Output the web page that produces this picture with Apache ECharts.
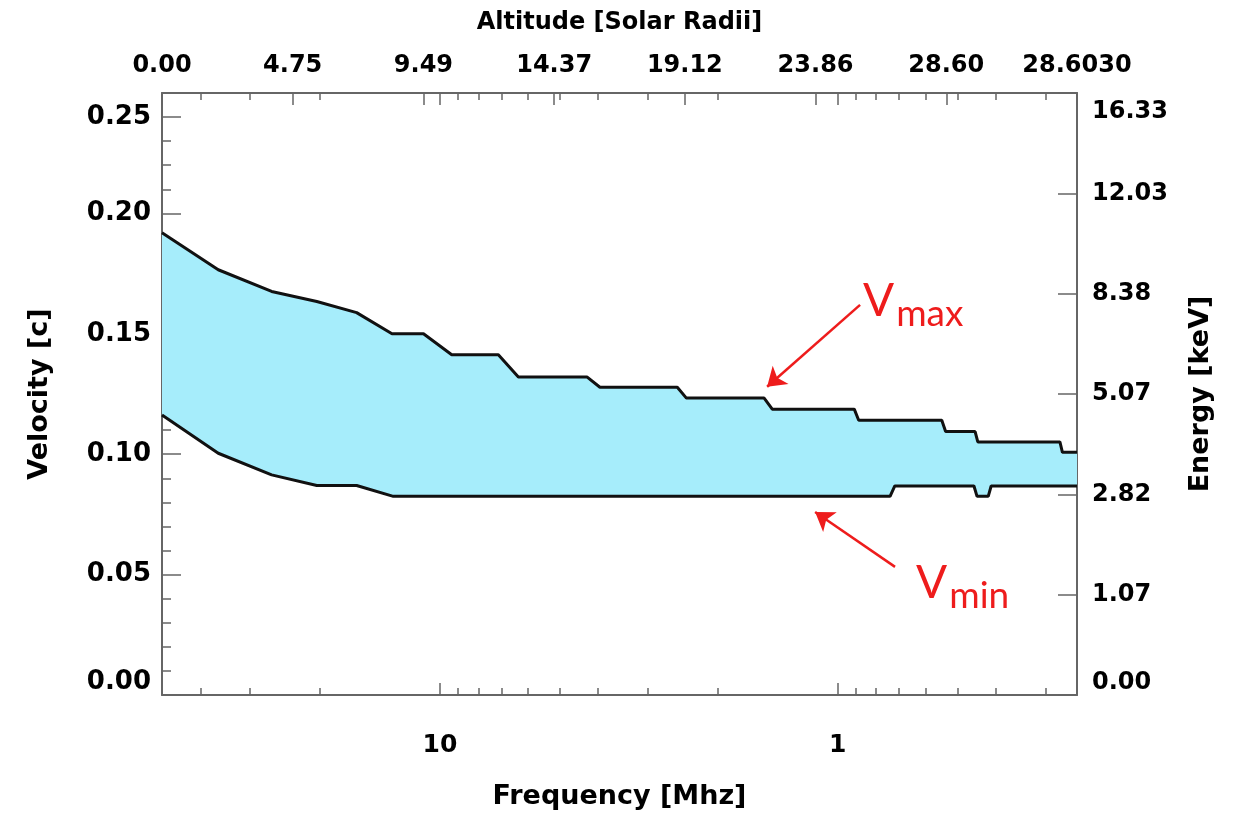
<!DOCTYPE html>
<html><head><meta charset="utf-8">
<script src="https://cdn.jsdelivr.net/npm/echarts@6/dist/echarts.min.js"></script>
<style>html,body{margin:0;padding:0;background:#fff}#c{width:1237px;height:816px}</style>
</head><body><div id="c"></div>
<script>
// ---- data ----
const vmaxFreq = [50, 36.1, 26.5, 20.4, 16.2, 13.2, 11.0, 9.34, 7.13, 6.35, 4.27, 3.96, 2.53, 2.40, 1.53, 1.46, 0.908, 0.885, 0.547, 0.535, 0.451, 0.444, 0.276, 0.272, 0.25];
const vmaxVel  = [0.192, 0.1766, 0.1676, 0.1634, 0.1588, 0.1500, 0.1500, 0.1413, 0.1413, 0.1321, 0.1321, 0.1278, 0.1278, 0.1233, 0.1233, 0.1187, 0.1187, 0.1141, 0.1141, 0.1094, 0.1094, 0.1051, 0.1051, 0.1008, 0.1008];
const vminFreq = [50, 36.1, 26.5, 20.4, 16.2, 13.1, 0.738, 0.718, 0.454, 0.446, 0.418, 0.411, 0.25];
const vminVel  = [0.1163, 0.1004, 0.0914, 0.0870, 0.0870, 0.0825, 0.0825, 0.0868, 0.0868, 0.0825, 0.0825, 0.0868, 0.0868];

const freqRange = [0.25, 50];
const freqMajorTicks = [10, 1];
const freqMinorTicks = [40, 30, 20, 9, 8, 7, 6, 5, 4, 3, 2, 0.9, 0.8, 0.7, 0.6, 0.5, 0.4, 0.3];

const velocityRange = [0, 0.25];
const velocityTickValues = [0, 0.05, 0.10, 0.15, 0.20, 0.24];
const velocityTickLabels = ['0.00', '0.05', '0.10', '0.15', '0.20', '0.25'];
const velocityMinorTicks = [0.01,0.02,0.03,0.04,0.06,0.07,0.08,0.09,0.11,0.12,0.13,0.14,0.16,0.17,0.18,0.19,0.21,0.22,0.23];

const energyTickLabels = ['0.00', '1.07', '2.82', '5.07', '8.38', '12.03', '16.33'];
const altitudeTickLabels = ['0.00', '4.75', '9.49', '14.37', '19.12', '23.86', '28.60', '28.6030'];

const arrowVmax = [[0.878, 0.162], [1.504, 0.128]];
const arrowVmin = [[0.717, 0.0532], [1.139, 0.0760]];
const labelVmax = { sub: 'max', at: [0.858, 0.150] };
const labelVmin = { sub: 'min', at: [0.631, 0.0328] };

// ---- styles ----
const AX = '#666';
const FONT = 'DejaVu Sans';
function tf(size) { return { fontFamily: FONT, fontWeight: 'bold', fontSize: size, color: '#000' }; }
const RED = '#ee1c1c';

const chart = echarts.init(document.getElementById('c'), null, { renderer: 'canvas' });

function freqAxis(pos, ticks, len, showLine, withLabels, name) {
  return {
    type: 'log', logBase: 10, position: pos, inverse: true,
    min: freqRange[0], max: freqRange[1],
    name: name || '', nameLocation: 'middle', nameGap: 88, nameTextStyle: tf(27),
    axisLine: { show: showLine, onZero: false, lineStyle: { color: AX, width: 2 } },
    axisTick: { show: true, inside: true, length: len, customValues: ticks, lineStyle: { color: AX, width: 1.5 } },
    axisLabel: withLabels ? Object.assign({ show: true, margin: 38, customValues: ticks }, tf(25)) : { show: false },
    splitLine: { show: false }, minorTick: { show: false }
  };
}

const option = {
  animation: false,
  backgroundColor: '#fff',
  grid: { left: 162, top: 93, width: 915, height: 602, outerBoundsMode: 'none', containLabel: false },
  xAxis: [
    freqAxis('bottom', freqMajorTicks, 12, true, true, 'Frequency [Mhz]'),
    freqAxis('bottom', freqMinorTicks, 7, false, false),
    freqAxis('top', freqMajorTicks, 12, false, false),
    freqAxis('top', freqMinorTicks, 7, false, false),
    {
      type: 'value', position: 'top', min: 0, max: altitudeTickLabels.length - 1, interval: 1,
      name: 'Altitude [Solar Radii]', nameLocation: 'middle', nameGap: 58, nameTextStyle: tf(24),
      axisLine: { show: true, onZero: false, lineStyle: { color: AX, width: 2 } },
      axisTick: { show: true, inside: true, length: 12, lineStyle: { color: AX, width: 1.5 } },
      axisLabel: Object.assign({ margin: 15, formatter: v => altitudeTickLabels[Math.round(v)] }, tf(24)),
      splitLine: { show: false }
    }
  ],
  yAxis: [
    {
      type: 'value', position: 'left', min: velocityRange[0], max: velocityRange[1],
      name: 'Velocity [c]', nameLocation: 'middle', nameGap: 109, nameRotate: 90, nameTextStyle: tf(27),
      axisLine: { show: true, onZero: false, lineStyle: { color: AX, width: 2 } },
      axisTick: { show: true, inside: true, length: 19, customValues: velocityTickValues, lineStyle: { color: AX, width: 1.5 } },
      axisLabel: Object.assign({
        margin: 11, customValues: velocityTickValues, verticalAlignMinLabel: 'bottom', padding: [3, 0, 0, 0],
        formatter: v => { const i = velocityTickValues.findIndex(t => Math.abs(t - v) < 1e-9); return i >= 0 ? velocityTickLabels[i] : ''; }
      }, tf(26)),
      splitLine: { show: false }
    },
    {
      type: 'value', position: 'left', min: velocityRange[0], max: velocityRange[1],
      axisLine: { show: false, onZero: false },
      axisTick: { show: true, inside: true, length: 9, customValues: velocityMinorTicks, lineStyle: { color: AX, width: 1.5 } },
      axisLabel: { show: false }, splitLine: { show: false }
    },
    {
      type: 'value', position: 'right', min: 0, max: energyTickLabels.length - 1, interval: 1,
      name: 'Energy [keV]', nameLocation: 'middle', nameGap: 110, nameRotate: 90, nameTextStyle: tf(27),
      axisLine: { show: true, onZero: false, lineStyle: { color: AX, width: 2 } },
      axisTick: { show: true, inside: true, length: 19, lineStyle: { color: AX, width: 1.5 } },
      axisLabel: Object.assign({
        margin: 15, verticalAlignMinLabel: 'bottom', verticalAlignMaxLabel: 'top', padding: [7, 0, 0, 0],
        formatter: v => energyTickLabels[Math.round(v)]
      }, tf(24)),
      splitLine: { show: false }
    }
  ],
  series: [
    {
      type: 'custom', xAxisIndex: 0, yAxisIndex: 0, z: 1, silent: true,
      data: [[vmaxFreq[0], vmaxVel[0]]],
      renderItem: function (params, api) {
        if (params.dataIndex !== 0) return null;
        const pts = [];
        for (let i = 0; i < vmaxFreq.length; i++) pts.push(api.coord([vmaxFreq[i], vmaxVel[i]]));
        for (let i = vminFreq.length - 1; i >= 0; i--) pts.push(api.coord([vminFreq[i], vminVel[i]]));
        return { type: 'polygon', shape: { points: pts }, style: { fill: '#a6edfb', stroke: null } };
      }
    },
    {
      name: 'Vmax', type: 'line', xAxisIndex: 0, yAxisIndex: 0, z: 3, silent: true,
      data: vmaxFreq.map((f, i) => [f, vmaxVel[i]]),
      symbol: 'none', lineStyle: { color: '#111', width: 3 },
      markLine: {
        silent: true, symbol: ['none', 'arrow'], symbolSize: 18,
        lineStyle: { color: RED, width: 2.5, type: 'solid' }, label: { show: false },
        emphasis: { disabled: true },
        data: [[{ coord: arrowVmax[0] }, { coord: arrowVmax[1] }], [{ coord: arrowVmin[0] }, { coord: arrowVmin[1] }]]
      },
      markPoint: {
        silent: true, symbol: 'circle', symbolSize: 2, itemStyle: { color: 'rgba(0,0,0,0)' },
        label: {
          show: true, position: [0, 0], align: 'left', verticalAlign: 'bottom',
          formatter: p => '{v|V}{s|' + p.data.sub + '}',
          rich: {
            v: { fontFamily: 'Lato', fontWeight: 'normal', fontSize: 46, color: RED, verticalAlign: 'bottom', padding: [0, 2, 9, 0] },
            s: { fontFamily: 'Lato', fontWeight: 'normal', fontSize: 37, color: RED, verticalAlign: 'bottom' }
          }
        },
        data: [labelVmax, labelVmin].map(a => ({ coord: a.at, sub: a.sub }))
      }
    },
    {
      name: 'Vmin', type: 'line', xAxisIndex: 0, yAxisIndex: 0, z: 3, silent: true,
      data: vminFreq.map((f, i) => [f, vminVel[i]]),
      symbol: 'none', lineStyle: { color: '#111', width: 3 }
    }
  ]
};
chart.setOption(option);
</script></body></html>
